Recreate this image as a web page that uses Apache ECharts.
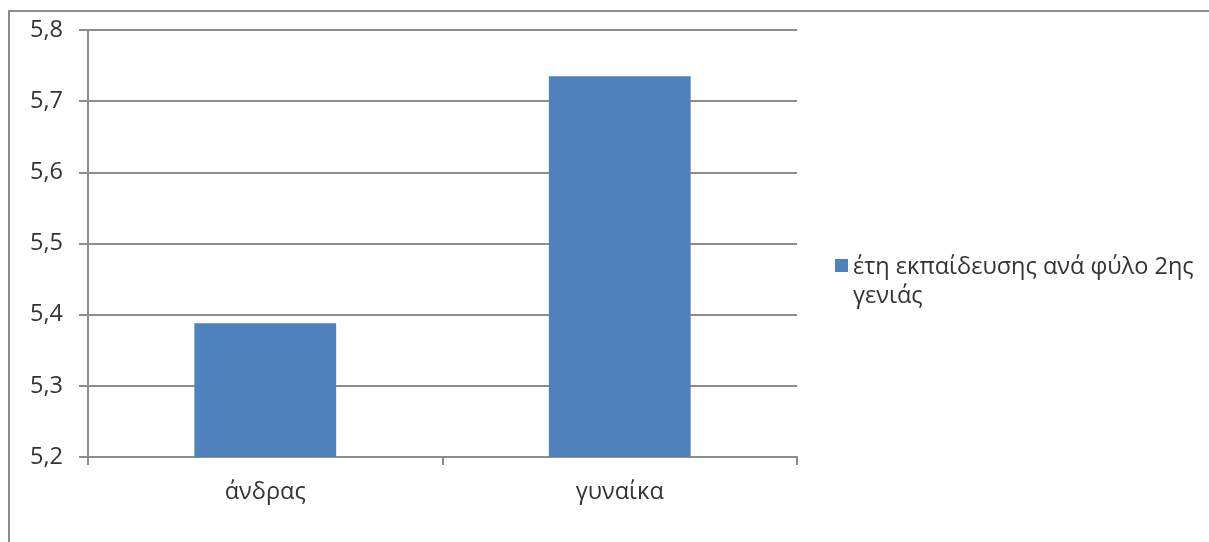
<!DOCTYPE html>
<html>
<head>
<meta charset="utf-8">
<script src="https://cdn.jsdelivr.net/npm/echarts@6/dist/echarts.min.js"></script>
<style>
  html, body { margin: 0; padding: 0; background: #fff; }
  #chart { width: 1209px; height: 542px; }
</style>
</head>
<body>
<div id="chart"></div>
<script>
// Years of schooling by sex, second generation
const categories = ['άνδρας', 'γυναίκα'];
const seriesName = 'έτη εκπαίδευσης ανά φύλο 2ης γενιάς';
const values = [5.388, 5.735];
const yTicks = ['5,2', '5,3', '5,4', '5,5', '5,6', '5,7', '5,8'];

const FONT = '"Open Sans", sans-serif';
const FONT_SIZE = 23.5;
const TEXT_COLOR = '#333';
const GRID_COLOR = '#8c8c8c';

// Legend swatch: a 13px square aligned with the first of the two text lines
// (the corner dots only stretch the icon box to the height of the text block).
const LEGEND_LINE = 29;
const SWATCH_ICON = 'path://M0,0h0.01v0.01h-0.01z M0,6h13v13h-13z M12.99,57.99h0.01v0.01h-0.01z';

const chart = echarts.init(document.getElementById('chart'), null, { renderer: 'canvas' });
chart.setOption({
  animation: false,
  backgroundColor: '#fff',
  graphic: [{
    type: 'rect',
    shape: { x: 9, y: 11, width: 1240, height: 580 },
    style: { fill: 'none', stroke: GRID_COLOR, lineWidth: 2 },
    silent: true
  }],
  grid: { left: 88, right: 412, top: 30, bottom: 85 },
  legend: {
    orient: 'vertical',
    left: 830,
    top: 248,
    itemWidth: 13,
    itemHeight: LEGEND_LINE * 2,
    itemGap: 6,
    icon: SWATCH_ICON,
    formatter: name => name.replace(' γενιάς', '\nγενιάς'),
    textStyle: { fontFamily: FONT, fontSize: FONT_SIZE, color: TEXT_COLOR, lineHeight: LEGEND_LINE },
    data: [seriesName]
  },
  xAxis: {
    type: 'category',
    data: categories,
    axisLine: { lineStyle: { color: GRID_COLOR, width: 2 } },
    axisTick: { show: true, length: 8, lineStyle: { color: GRID_COLOR, width: 2 } },
    axisLabel: { fontFamily: FONT, fontSize: FONT_SIZE, color: TEXT_COLOR, margin: 23 }
  },
  yAxis: {
    type: 'value',
    min: 5.2,
    max: 5.8,
    interval: 0.1,
    axisLine: { show: true, lineStyle: { color: GRID_COLOR, width: 2 } },
    axisTick: { show: true, length: 9, lineStyle: { color: GRID_COLOR, width: 2 } },
    splitLine: { lineStyle: { color: GRID_COLOR, width: 2 } },
    axisLabel: {
      fontFamily: FONT, fontSize: FONT_SIZE, color: TEXT_COLOR, margin: 25,
      formatter: v => yTicks[Math.round((v - 5.2) * 10)]
    }
  },
  series: [{
    name: seriesName,
    type: 'bar',
    data: values,
    barCategoryGap: '60%',
    itemStyle: { color: '#4f81bd' }
  }]
});
</script>
</body>
</html>
